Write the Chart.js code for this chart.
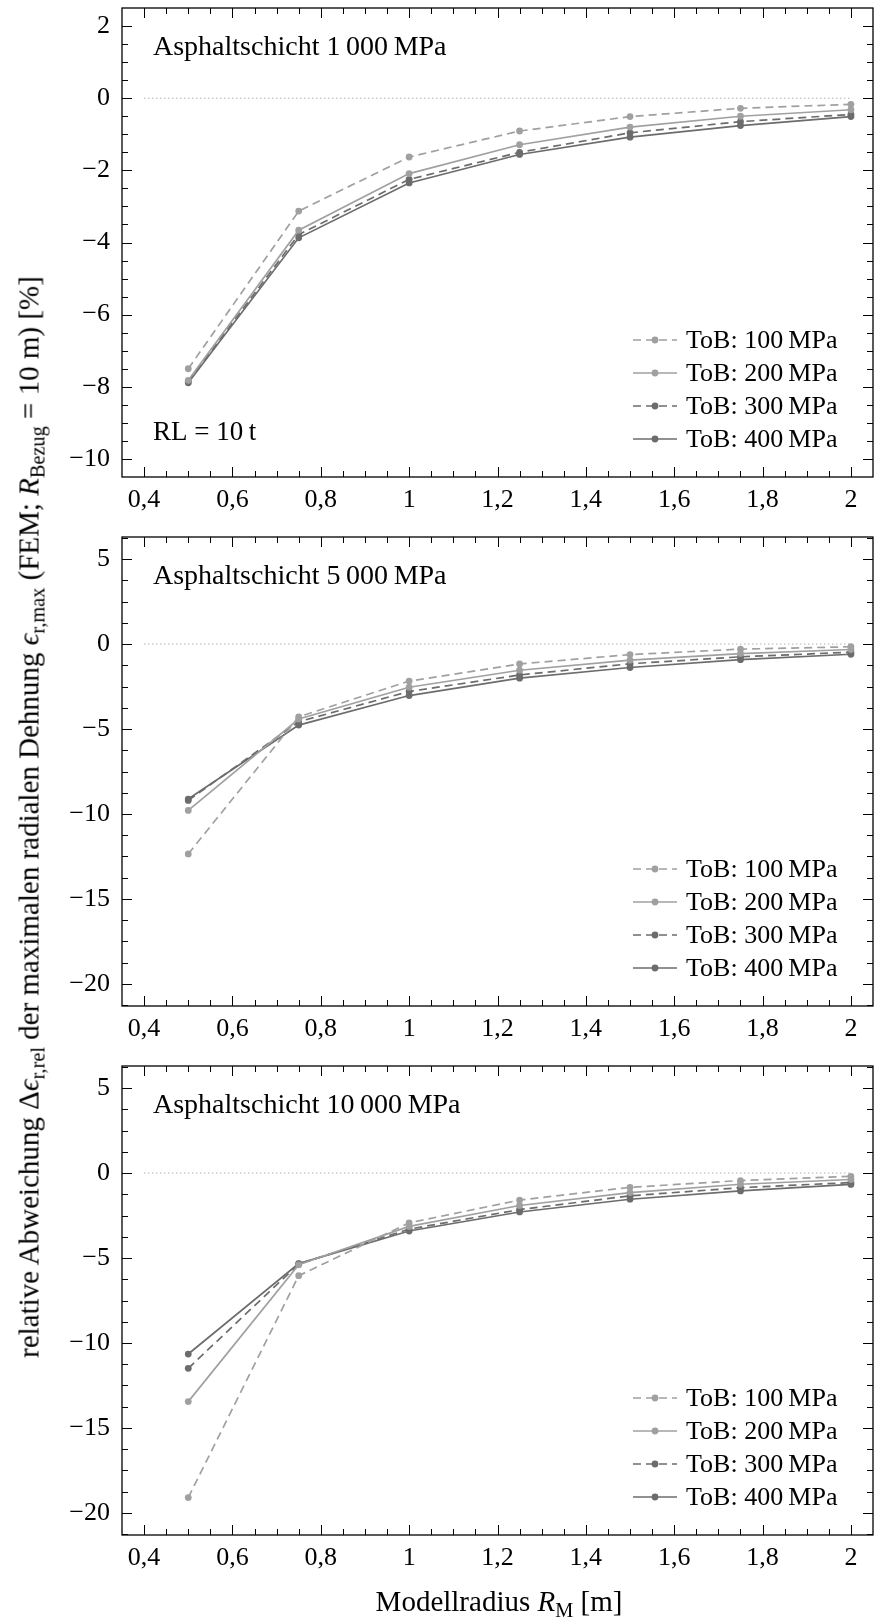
<!DOCTYPE html>
<html>
<head>
<meta charset="utf-8">
<script src="https://cdn.jsdelivr.net/npm/chart.js@4.4.1/dist/chart.umd.min.js"></script>
<style>
body { margin: 0; background: #fff; }
#wrap { position: relative; width: 877px; height: 1618px; font-family: "Liberation Serif", serif; color: #000; overflow: hidden; }
canvas { position: absolute; left: 0; }
.ylab { position: absolute; left: 29px; top: 817px; transform: translate(-50%, -50%) rotate(-90deg); white-space: nowrap; font-size: 29px; }
.xlab { position: absolute; left: 499px; top: 1601px; transform: translate(-50%, -50%); white-space: nowrap; font-size: 29px; }
sub { font-size: 0.7em; vertical-align: -0.3em; line-height: 0; }
</style>
</head>
<body>
<div id="wrap">
	<canvas id="p1" width="877" height="527" style="top:0px"></canvas>
	<canvas id="p2" width="877" height="527" style="top:529px"></canvas>
	<canvas id="p3" width="877" height="527" style="top:1058px"></canvas>
	<div class="ylab">relative Abweichung Δ<i>ϵ</i><sub>r,rel</sub> der maximalen radialen Dehnung <i>ϵ</i><sub>r,max</sub> (FEM; <i>R</i><sub>Bezug</sub> = 10 m) [%]</div>
	<div class="xlab">Modellradius <i>R</i><sub>M</sub> [m]</div>
</div>
<script>
// Modellradius in m
const radius = [0.5, 0.75, 1, 1.25, 1.5, 1.75, 2];

const seriesNames = ['ToB: 100\u2009MPa', 'ToB: 200\u2009MPa', 'ToB: 300\u2009MPa', 'ToB: 400\u2009MPa'];
const panelTitles = ['Asphaltschicht 1\u2009000\u2009MPa', 'Asphaltschicht 5\u2009000\u2009MPa', 'Asphaltschicht 10\u2009000\u2009MPa'];

// Asphaltschicht 1 000 MPa
const a1_tob100 = [-7.50, -3.13, -1.63, -0.91, -0.51, -0.28, -0.17];
const a1_tob200 = [-7.82, -3.66, -2.09, -1.29, -0.80, -0.50, -0.32];
const a1_tob300 = [-7.85, -3.78, -2.25, -1.50, -0.96, -0.65, -0.45];
const a1_tob400 = [-7.89, -3.87, -2.35, -1.56, -1.08, -0.76, -0.51];

// Asphaltschicht 5 000 MPa
const a5_tob100 = [-12.35, -4.28, -2.18, -1.17, -0.62, -0.30, -0.16];
const a5_tob200 = [-9.79, -4.41, -2.54, -1.54, -0.95, -0.56, -0.32];
const a5_tob300 = [-9.20, -4.57, -2.79, -1.82, -1.16, -0.75, -0.48];
const a5_tob400 = [-9.12, -4.77, -3.03, -2.01, -1.38, -0.92, -0.60];

// Asphaltschicht 10 000 MPa
const a10_tob100 = [-19.10, -6.04, -2.93, -1.59, -0.84, -0.44, -0.19];
const a10_tob200 = [-13.45, -5.40, -3.14, -1.91, -1.15, -0.66, -0.38];
const a10_tob300 = [-11.49, -5.35, -3.30, -2.15, -1.34, -0.86, -0.56];
const a10_tob400 = [-10.65, -5.33, -3.41, -2.29, -1.54, -1.05, -0.67];

const xTicks = [0.4, 0.6, 0.8, 1, 1.2, 1.4, 1.6, 1.8, 2];
const yTicksA1 = [2, 0, -2, -4, -6, -8, -10];
const yTicksA5 = [5, 0, -5, -10, -15, -20];
const yTicksA10 = [5, 0, -5, -10, -15, -20];

const FONT = '"Liberation Serif", serif';
const LIGHT = '#a0a0a0';
const DARK = '#6c6c6c';
const DASH = [8, 5];

const looks =
[
	{ color: LIGHT, dash: DASH },
	{ color: LIGHT, dash: [] },
	{ color: DARK, dash: DASH },
	{ color: DARK, dash: [] }
];

function fmtX(v)
{
	return String(v).replace('.', ',');
}

function fmtY(v)
{
	return (v < 0 ? '\u2212' : '') + Math.abs(v);
}

// inward tick marks on all four sides, plus the frame
const frameTicks =
{
	id: 'frameTicks',
	afterDatasetsDraw(chart, args, opts)
	{
		const ctx = chart.ctx;
		const a = chart.chartArea;
		const x = chart.scales.x;
		const y = chart.scales.y;

		ctx.save();
		ctx.strokeStyle = '#000';
		ctx.lineWidth = 1;
		ctx.beginPath();

		const major = 10, minor = 6;

		for (let k = Math.ceil(x.min / opts.xStep - 1e-6); k * opts.xStep < x.max - 1e-6; ++k)
		{
			const v = k * opts.xStep;
			if (v <= x.min + 1e-6) continue;
			const isMajor = xTicks.some(t => Math.abs(t - v) < 1e-6);
			const len = isMajor ? major : minor;
			const px = Math.round(x.getPixelForValue(v)) + 0.5;
			ctx.moveTo(px, a.bottom); ctx.lineTo(px, a.bottom - len);
			ctx.moveTo(px, a.top); ctx.lineTo(px, a.top + len);
		}

		for (let k = Math.ceil(y.min / opts.yStep - 1e-6); k * opts.yStep < y.max - 1e-6; ++k)
		{
			const v = k * opts.yStep;
			if (v <= y.min + 1e-6) continue;
			const isMajor = opts.yTicks.some(t => Math.abs(t - v) < 1e-6);
			const len = isMajor ? major : minor;
			const py = Math.round(y.getPixelForValue(v)) + 0.5;
			ctx.moveTo(a.left, py); ctx.lineTo(a.left + len, py);
			ctx.moveTo(a.right, py); ctx.lineTo(a.right - len, py);
		}
		ctx.stroke();

		ctx.lineWidth = 1.3;
		ctx.strokeRect(a.left, a.top, a.right - a.left, a.bottom - a.top);
		ctx.restore();
	}
};

// panel caption and legend inside the plot area
const innerText =
{
	id: 'innerText',
	afterDraw(chart, args, opts)
	{
		const ctx = chart.ctx;
		const a = chart.chartArea;

		ctx.save();
		ctx.fillStyle = '#000';
		ctx.textBaseline = 'alphabetic';
		ctx.textAlign = 'left';
		ctx.font = '28px ' + FONT;
		ctx.fillText(opts.title, a.left + 31, a.top + 47);
		ctx.font = '27px ' + FONT;
		if (opts.note) ctx.fillText(opts.note, a.left + 31, a.bottom - 37);

		ctx.font = '26px ' + FONT;
		const sets = chart.data.datasets.filter(d => !d.noLegend);
		sets.forEach(function(d, i)
		{
			const ry = a.bottom - 38 - 33 * (sets.length - 1 - i);
			ctx.strokeStyle = d.borderColor;
			ctx.lineWidth = d.borderWidth;
			ctx.setLineDash(d.borderDash || []);
			ctx.beginPath();
			ctx.moveTo(633, ry); ctx.lineTo(677, ry);
			ctx.stroke();
			ctx.setLineDash([]);
			ctx.fillStyle = d.borderColor;
			ctx.beginPath();
			ctx.arc(655, ry, d.pointRadius, 0, 2 * Math.PI);
			ctx.fill();
			ctx.fillStyle = '#000';
			ctx.textBaseline = 'middle';
			ctx.fillText(d.label, 686, ry + 1);
		});
		ctx.restore();
	}
};

function makePanel(id, series, yTicks, yMin, yMax, yStep, title, note)
{
	const sets =
	[{
		label: 'null',
		noLegend: true,
		data: [{ x: xTicks[0], y: 0 }, { x: xTicks[xTicks.length - 1], y: 0 }],
		borderColor: '#a8a8a8',
		borderWidth: 1,
		borderDash: [1.3, 2.7],
		pointRadius: 0
	}];

	series.forEach(function(vals, i)
	{
		sets.push(
		{
			label: seriesNames[i],
			data: radius.map((r, j) => ({ x: r, y: vals[j] })),
			borderColor: looks[i].color,
			backgroundColor: looks[i].color,
			borderDash: looks[i].dash,
			borderWidth: 1.7,
			pointRadius: 3.4,
			pointBorderWidth: 0,
			tension: 0
		});
	});

	return new Chart(document.getElementById(id),
	{
		type: 'line',
		data: { datasets: sets },
		plugins: [frameTicks, innerText],
		options:
		{
			responsive: false,
			animation: false,
			layout: { padding: { top: 8, right: 1, left: 0, bottom: 0 } },
			plugins:
			{
				legend: { display: false },
				tooltip: { enabled: false },
				frameTicks: { xStep: 0.05, yStep: yStep, yTicks: yTicks },
				innerText: { title: title, note: note }
			},
			scales:
			{
				x:
				{
					type: 'linear',
					min: 0.35,
					max: 2.05,
					grid: { display: false, drawTicks: false },
					border: { display: false },
					afterBuildTicks: function(s) { s.ticks = xTicks.map(v => ({ value: v })); },
					afterFit: function(s) { s.height = 50; s.paddingLeft = 0; s.paddingRight = 0; },
					ticks: { padding: 8, color: '#000', font: { family: FONT, size: 26 }, maxRotation: 0, autoSkip: false, callback: fmtX }
				},
				y:
				{
					type: 'linear',
					min: yMin,
					max: yMax,
					grid: { display: false, drawTicks: false },
					border: { display: false },
					afterBuildTicks: function(s) { s.ticks = yTicks.map(v => ({ value: v })); },
					afterFit: function(s) { s.width = 122; s.paddingTop = 0; s.paddingBottom = 0; },
					ticks: { padding: 12, color: '#000', font: { family: FONT, size: 26 }, autoSkip: false, callback: fmtY }
				}
			}
		}
	});
}

makePanel('p1', [a1_tob100, a1_tob200, a1_tob300, a1_tob400], yTicksA1, -10.5, 2.5, 0.5, panelTitles[0], 'RL = 10\u2009t');
makePanel('p2', [a5_tob100, a5_tob200, a5_tob300, a5_tob400], yTicksA5, -21.3, 6.3, 1.25, panelTitles[1], null);
makePanel('p3', [a10_tob100, a10_tob200, a10_tob300, a10_tob400], yTicksA10, -21.3, 6.3, 1.25, panelTitles[2], null);
</script>
</body>
</html>
